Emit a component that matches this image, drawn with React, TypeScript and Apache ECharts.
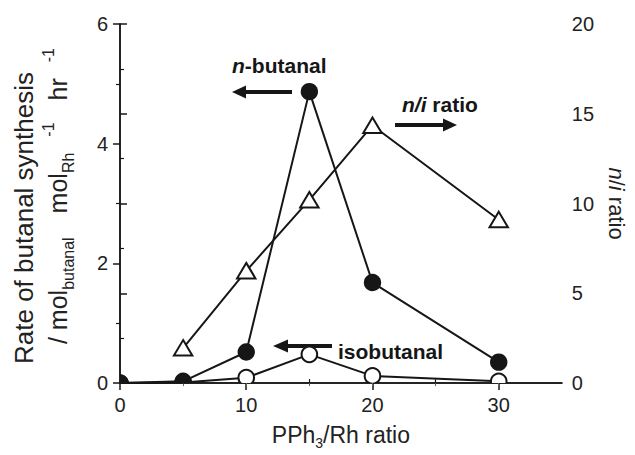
import React, { useEffect, useRef } from "react";
import * as echarts from "echarts";

const ratioX = [0, 5, 10, 15, 20, 30];
const nButanal = [0, 0.03, 0.52, 4.87, 1.68, 0.35];
const isoButanal = [0, 0.01, 0.09, 0.48, 0.12, 0.03];
const niX = [5, 10, 15, 20, 30];
const niRatio = [1.95, 6.25, 10.2, 14.35, 9.1];

const xMajorTicks = [0, 10, 20, 30];
const xMinorTicks = [5, 15, 25];
const xTopTicks = [5, 10, 15, 20, 25, 30];

const FONT = '"Liberation Sans", Arial, Helvetica, sans-serif';
const INK = "#161616";

const pairs = (xs: number[], ys: number[]) => xs.map((x, i) => [x, ys[i]]);

export default function App() {
  const ref = useRef<HTMLDivElement>(null);
  useEffect(() => {
    if (!ref.current) return;
    const chart = echarts.init(ref.current, null, { renderer: "svg" });

    const circleItem = (filled: boolean) => (params: any, api: any) => {
      const p = api.coord([api.value(0), api.value(1)]);
      return {
        type: "circle",
        shape: { cx: p[0], cy: p[1], r: filled ? 8.7 : 7.8 },
        style: { fill: filled ? INK : "#fff", stroke: INK, lineWidth: filled ? 0 : 2 },
      };
    };
    const triItem = (params: any, api: any) => {
      const p = api.coord([api.value(0), api.value(1)]);
      return {
        type: "polygon",
        shape: {
          points: [
            [p[0], p[1] - 8],
            [p[0] + 9.2, p[1] + 7.5],
            [p[0] - 9.2, p[1] + 7.5],
          ],
        },
        style: { fill: "#fff", stroke: INK, lineWidth: 2, lineJoin: "miter" },
      };
    };

    const axisLine = { show: true, lineStyle: { color: INK, width: 1.5 } };
    const labelStyle = { fontSize: 20, color: "#222", fontFamily: FONT };
    const T = "#222";

    chart.setOption({
      animation: false,
      backgroundColor: "#fff",
      grid: { left: 120, right: 66, top: 24, bottom: 66, containLabel: false },
      xAxis: [
        {
          type: "value",
          min: 0,
          max: 35,
          interval: 5,
          position: "bottom",
          axisLine,
          axisTick: { show: true, inside: false, length: 7, customValues: xMajorTicks, lineStyle: { color: INK, width: 1.5 } },
          axisLabel: { ...labelStyle, margin: 12, customValues: xMajorTicks },
          splitLine: { show: false },
          name: "PPh{sub|3}/Rh ratio",
          nameLocation: "middle",
          nameGap: 36,
          nameTextStyle: {
            fontSize: 23,
            color: T,
            fontFamily: FONT,
            lineHeight: 30,
            rich: { sub: { fontSize: 14, lineHeight: 14, verticalAlign: "bottom", color: T, fontFamily: FONT } },
          },
        },
        {
          type: "value",
          min: 0,
          max: 35,
          interval: 5,
          position: "top",
          axisLine,
          axisTick: { show: true, inside: true, length: 3, customValues: xTopTicks, lineStyle: { color: "#666", width: 1 } },
          axisLabel: { show: false },
          splitLine: { show: false },
        },
        {
          type: "value",
          min: 0,
          max: 35,
          interval: 5,
          position: "bottom",
          axisLine: { show: false },
          axisTick: { show: true, inside: true, length: 4, customValues: xMinorTicks, lineStyle: { color: INK, width: 1.2 } },
          axisLabel: { show: false },
          splitLine: { show: false },
        },
      ],
      yAxis: [
        {
          type: "value",
          min: 0,
          max: 6,
          interval: 2,
          position: "left",
          axisLine,
          axisTick: { show: true, inside: false, length: 7, lineStyle: { color: INK, width: 1.5 } },
          minorTick: { show: true, splitNumber: 2, length: 4, lineStyle: { color: INK, width: 1.2 } },
          axisLabel: { ...labelStyle, margin: 12 },
          splitLine: { show: false },
          minorSplitLine: { show: false },
        },
        {
          type: "value",
          min: 0,
          max: 20,
          interval: 5,
          position: "right",
          axisLine,
          axisTick: { show: true, inside: false, length: 7, lineStyle: { color: INK, width: 1.5 } },
          minorTick: { show: true, splitNumber: 2, length: 4, lineStyle: { color: INK, width: 1.2 } },
          axisLabel: { ...labelStyle, margin: 10 },
          splitLine: { show: false },
          minorSplitLine: { show: false },
          name: "{it|n}/{it|i} ratio",
          nameLocation: "middle",
          nameRotate: -90,
          nameGap: 40,
          nameTextStyle: {
            fontSize: 22,
            color: T,
            fontFamily: FONT,
            rich: { it: { fontSize: 22, fontStyle: "italic", color: T, fontFamily: FONT } },
          },
        },
      ],
      series: [
        {
          type: "line",
          yAxisIndex: 1,
          data: pairs(niX, niRatio),
          symbol: "none",
          lineStyle: { color: INK, width: 2 },
          clip: true,
          z: 2,
        },
        {
          type: "line",
          data: pairs(ratioX, isoButanal),
          symbol: "none",
          lineStyle: { color: INK, width: 2 },
          clip: true,
          z: 2,
        },
        {
          type: "line",
          data: pairs(ratioX, nButanal),
          symbol: "none",
          lineStyle: { color: INK, width: 2 },
          clip: true,
          z: 2,
        },
        {
          type: "custom",
          yAxisIndex: 1,
          data: pairs(niX, niRatio),
          encode: { x: 0, y: 1 },
          renderItem: triItem,
          clip: true,
          z: 3,
        },
        {
          type: "custom",
          data: pairs(ratioX, isoButanal),
          encode: { x: 0, y: 1 },
          renderItem: circleItem(false),
          clip: true,
          z: 4,
        },
        {
          type: "custom",
          data: pairs(ratioX, nButanal),
          encode: { x: 0, y: 1 },
          renderItem: circleItem(true),
          clip: true,
          z: 5,
        },
      ],
      graphic: [
        {
          type: "text",
          x: 24,
          y: 218,
          rotation: Math.PI / 2,
          style: {
            text: "Rate of butanal synthesis",
            fontSize: 26,
            fontFamily: FONT,
            fill: T,
            align: "center",
            verticalAlign: "middle",
          },
        },
        {
          type: "text",
          x: 58,
          y: 196,
          rotation: Math.PI / 2,
          style: {
            text: "{m|/ mol}{sub|butanal}{m2|mol}{sub|Rh}{sup|-1}{m3|hr}{sup|-1}",
            fontSize: 25,
            fontFamily: FONT,
            fill: T,
            align: "center",
            verticalAlign: "middle",
            rich: {
              m: { fontSize: 25, lineHeight: 36, fontFamily: FONT, fill: T },
              m2: { fontSize: 25, lineHeight: 36, fontFamily: FONT, fill: T, padding: [0, 0, 0, 24] },
              m3: { fontSize: 25, lineHeight: 36, fontFamily: FONT, fill: T, padding: [0, 0, 0, 22] },
              sub: { fontSize: 16, lineHeight: 16, verticalAlign: "bottom", fontFamily: FONT, fill: T },
              sup: { fontSize: 16, lineHeight: 16, verticalAlign: "top", fontFamily: FONT, fill: T, padding: [0, 0, 0, 16] },
            },
          },
        },
        // n-butanal label and arrow
        {
          type: "text",
          x: 232,
          y: 65,
          style: {
            text: "{bi|n}{b|-butanal}",
            align: "left",
            verticalAlign: "middle",
            rich: {
              bi: { fontSize: 21, fontWeight: "bold", fontStyle: "italic", fontFamily: FONT, fill: INK },
              b: { fontSize: 21, fontWeight: "bold", fontFamily: FONT, fill: INK },
            },
          },
        },
        { type: "rect", shape: { x: 243, y: 90, width: 49, height: 4 }, style: { fill: INK } },
        { type: "polygon", shape: { points: [[232, 92], [246, 85.5], [246, 98.5]] }, style: { fill: INK } },
        // n/i ratio label and arrow
        {
          type: "text",
          x: 402,
          y: 104,
          style: {
            text: "{bi|n/i}{b| ratio}",
            align: "left",
            verticalAlign: "middle",
            rich: {
              bi: { fontSize: 21, fontWeight: "bold", fontStyle: "italic", fontFamily: FONT, fill: INK },
              b: { fontSize: 21, fontWeight: "bold", fontFamily: FONT, fill: INK },
            },
          },
        },
        { type: "rect", shape: { x: 395, y: 123, width: 49, height: 4 }, style: { fill: INK } },
        { type: "polygon", shape: { points: [[457, 125], [443, 118.5], [443, 131.5]] }, style: { fill: INK } },
        // isobutanal label and arrow
        {
          type: "text",
          x: 338,
          y: 351,
          style: {
            text: "isobutanal",
            fontSize: 21,
            fontWeight: "bold",
            fontFamily: FONT,
            fill: INK,
            align: "left",
            verticalAlign: "middle",
          },
        },
        { type: "rect", shape: { x: 286, y: 344, width: 46, height: 4 }, style: { fill: INK } },
        { type: "polygon", shape: { points: [[273, 346], [288, 339.5], [288, 352.5]] }, style: { fill: INK } },
      ],
    });
    return () => chart.dispose();
  }, []);

  return (
    <div
      ref={ref}
      style={{ position: "fixed", left: 0, top: 0, width: 635, height: 455, background: "#fff" }}
    />
  );
}
